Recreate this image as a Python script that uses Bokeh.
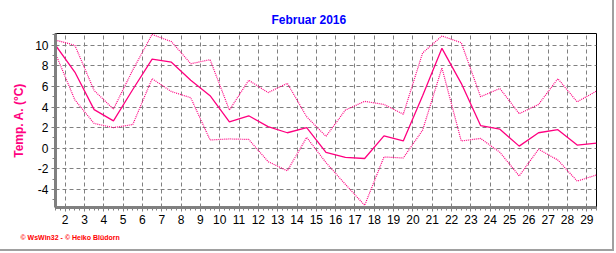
from bokeh.plotting import figure
from bokeh.models import FixedTicker, Range1d, Title, ColumnDataSource
from bokeh.embed import file_html
from bokeh.resources import INLINE

title_text = "Februar 2016"
y_label = "Temp. A. (°C)"
footer_text = "© WsWin32 - © Heiko Blüdorn"

days = list(range(1, 30))
t_mean = [10.0, 7.4, 3.75, 2.65, 5.7, 8.65, 8.35, 6.6, 5.1, 2.55,
          3.15, 2.1, 1.5, 2.0, -0.4, -0.9, -1.0, 1.2, 0.7, 5.1,
          9.7, 6.3, 2.2, 1.85, 0.2, 1.5, 1.8, 0.3, 0.5]
t_max = [10.5, 10.0, 5.6, 3.8, 7.6, 11.05, 10.35, 8.2, 8.6, 3.7,
         6.6, 5.4, 6.3, 3.05, 1.15, 3.7, 4.55, 4.25, 3.3, 9.25,
         10.9, 10.25, 5.0, 5.8, 3.35, 4.25, 6.75, 4.5, 5.55]
t_min = [9.2, 4.7, 2.4, 2.0, 2.3, 6.75, 5.5, 4.9, 0.8, 0.9,
         0.85, -1.3, -2.2, 1.05, -1.4, -3.5, -5.55, -0.85, -0.95, 1.75,
         7.8, 0.7, 0.95, -0.4, -2.7, -0.1, -1.15, -3.2, -2.6]
x_ticks = list(range(2, 30))
y_ticks = [-4, -2, 0, 2, 4, 6, 8, 10]

pink = "#ff0080"
grid_gray = "#808080"
font = "Liberation Sans"

src = ColumnDataSource(dict(x=[d + 0.5 for d in days], mean=t_mean, tmax=t_max, tmin=t_min))

p = figure(width=614, height=251, output_backend="svg", toolbar_location=None,
           x_range=Range1d(1.5, 29.5), y_range=Range1d(-5.76, 11.14),
           min_border_left=55, min_border_right=18, min_border_top=33, min_border_bottom=44)
p.styles = {"border-right": "2px solid #a0a0a0", "border-bottom": "2px solid #a0a0a0"}

p.title.text = title_text
p.title.align = "left"
p.title.offset = 216
p.title.standoff = 13
p.title.text_color = "#0000ff"
p.title.text_font = font
p.title.text_font_size = "12px"
p.title.text_font_style = "bold"

p.line("x", "tmax", source=src, color=pink, line_width=1.2, line_dash="1 1")
p.line("x", "tmin", source=src, color=pink, line_width=1.2, line_dash="1 1")
p.line("x", "mean", source=src, color=pink, line_width=1.3)

xt = FixedTicker(ticks=x_ticks, minor_ticks=[1.5 + 0.25 * i for i in range(113)])
yt = FixedTicker(ticks=y_ticks, minor_ticks=list(range(-5, 12)))
p.xaxis.ticker = xt
p.yaxis.ticker = yt
p.xgrid.ticker = FixedTicker(ticks=x_ticks)
p.ygrid.ticker = FixedTicker(ticks=y_ticks)
p.yaxis.major_label_overrides = {v: str(v) for v in y_ticks}
p.xaxis.major_label_overrides = {v: str(v) for v in x_ticks}

for g in (p.xgrid, p.ygrid):
    g.grid_line_color = grid_gray
    g.grid_line_dash = "4 3"
    g.grid_line_width = 1

for ax in (p.xaxis, p.yaxis):
    ax.axis_line_color = grid_gray
    ax.axis_line_width = 3
    ax.major_tick_line_color = grid_gray
    ax.minor_tick_line_color = grid_gray
    ax.major_tick_in = 0
    ax.minor_tick_in = 0
    ax.major_tick_out = 4
    ax.minor_tick_out = 3
    ax.major_label_text_font = font
    ax.major_label_text_font_size = "12px"
    ax.major_label_text_color = "black"
    ax.major_label_standoff = 3

p.yaxis.axis_label = y_label
p.yaxis.axis_label_text_color = pink
p.yaxis.axis_label_text_font = font
p.yaxis.axis_label_text_font_size = "12px"
p.yaxis.axis_label_text_font_style = "bold"
p.yaxis.axis_label_standoff = 6

p.outline_line_color = "black"
p.outline_line_width = 1
p.outline_line_alpha = 1

footer = Title(text=footer_text, align="left", offset=-35, text_color="#ff0000",
               text_font=font, text_font_size="7px", text_font_style="bold")
p.add_layout(footer, "below")

open("out.html", "w").write(file_html(p, INLINE))
